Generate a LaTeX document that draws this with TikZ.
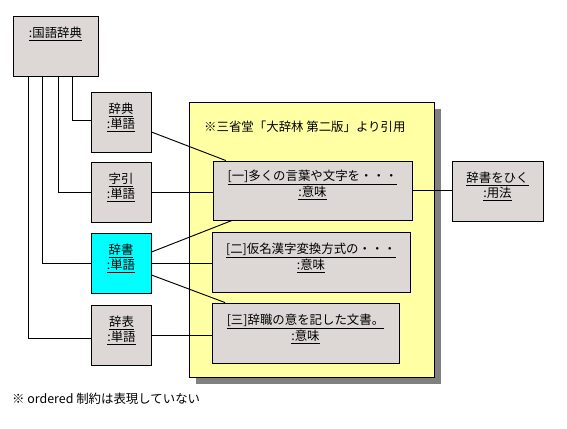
\documentclass[tikz,border=0pt]{standalone}
\usepackage{fontspec}
\usepackage{xcolor}
\usepackage{tikz}
\usetikzlibrary{positioning, shadows}
\newfontfamily\jpfont{Noto Sans CJK JP}

\definecolor{objgray}{RGB}{221,216,214}
\definecolor{notey}{RGB}{255,255,163}
\definecolor{shadowgray}{RGB}{128,128,128}
\definecolor{selcyan}{RGB}{0,255,255}

\begin{document}
\begin{tikzpicture}[
  x=0.03cm, y=-0.03cm,
  font=\jpfont\fontsize{10.6pt}{11.6pt}\selectfont,
  obj/.style={
    draw=black,
    fill=objgray,
    line width=0.8pt,
    minimum width=1.8cm,
    minimum height=1.8cm,
    inner sep=0pt
  },
  objtxt/.style={
    align=center,
    inner sep=1pt
  },
  link/.style={
    draw=black,
    line width=0.8pt
  }
]
\useasboundingbox (0,0) rectangle (567,429);

% -------------------------------------------------------------------
% note
% -------------------------------------------------------------------
\node[
  draw=black,
  fill=notey,
  line width=0.8pt,
  minimum width=7.35cm,
  minimum height=8.25cm,
  drop shadow={shadow xshift=0.21cm, shadow yshift=-0.21cm,
               fill=shadowgray, opacity=1}
] (note) at (311.5,239.5) {};

\node[anchor=west, inner sep=0pt] (notetxt) at (204,127)
{※三省堂「大辞林 第二版」より引用};

% -------------------------------------------------------------------
% objects
% -------------------------------------------------------------------
\node[obj, minimum width=2.55cm] (kokugo) at (55.5,46) {};
\node[objtxt, below=0.3cm of kokugo.north] (kokugo-t)
{\underline{:国語辞典}};

\node[obj] (jiten) at (121,122) {};
\node[objtxt, below=0.3cm of jiten.north] (jiten-t)
{\underline{辞典}\\\underline{:単語}};

\node[obj] (jibiki) at (121,192) {};
\node[objtxt, below=0.3cm of jibiki.north] (jibiki-t)
{\underline{字引}\\\underline{:単語}};

\node[obj, fill=selcyan] (jisho) at (121,263) {};
\node[objtxt, below=0.3cm of jisho.north] (jisho-t)
{\underline{辞書}\\\underline{:単語}};

\node[obj] (jihyo) at (121.5,335) {};
\node[objtxt, below=0.3cm of jihyo.north] (jihyo-t)
{\underline{辞表}\\\underline{:単語}};

% meanings
\node[obj, minimum width=5.97cm, minimum height=1.77cm] (imi1) at (312.5,190.5) {};
\node[objtxt, below=0.25cm of imi1.north] (imi1-t)
{\underline{[一]多くの言葉や文字を・・・}\\\underline{:意味}};

\node[obj, minimum width=5.94cm] (imi2) at (311,262) {};
\node[objtxt, below=0.3cm of imi2.north] (imi2-t)
{\underline{[二]仮名漢字変換方式の・・・}\\\underline{:意味}};

\node[obj, minimum width=5.61cm] (imi3) at (305.5,333) {};
\node[objtxt, below=0.3cm of imi3.north] (imi3-t)
{\underline{[三]辞職の意を記した文書。}\\\underline{:意味}};

% usage
\node[obj, minimum width=2.73cm] (youhou) at (497.5,191) {};
\node[objtxt, below=0.3cm of youhou.north] (youhou-t)
{\underline{辞書をひく}\\\underline{:用法}};

% -------------------------------------------------------------------
% links
% -------------------------------------------------------------------
\draw[link] ([xshift=-0.825cm]kokugo.south) |- ([yshift=-0.09cm]jihyo.west);
\draw[link] ([xshift=-0.405cm]kokugo.south) |- (jisho.west);
\draw[link] ([xshift=0.075cm]kokugo.south) |- (jibiki.west);
\draw[link] ([xshift=0.495cm]kokugo.south) |- ([yshift=0.06cm]jiten.west);

\draw[link] ([yshift=-0.3cm]jiten.east) -- ([xshift=-2.6cm]imi1.north);
\draw[link] (jibiki.east) -- (jibiki.east -| imi1.west);
\draw[link] ([yshift=0.33cm]jisho.east) -- ([xshift=-2.415cm]imi1.south);
\draw[link] (jisho.east) -- (jisho.east -| imi2.west);
\draw[link] ([yshift=-0.36cm]jisho.east) -- ([xshift=-2.415cm]imi3.north);
\draw[link] (jihyo.east) -- (jihyo.east -| imi3.west);
\draw[link] (imi1.east) -- (imi1.east -| youhou.west);

% footnote
\node[anchor=west, inner sep=0pt] (remark) at (12,399)
{※ ordered 制約は表現していない};

\end{tikzpicture}
\end{document}
